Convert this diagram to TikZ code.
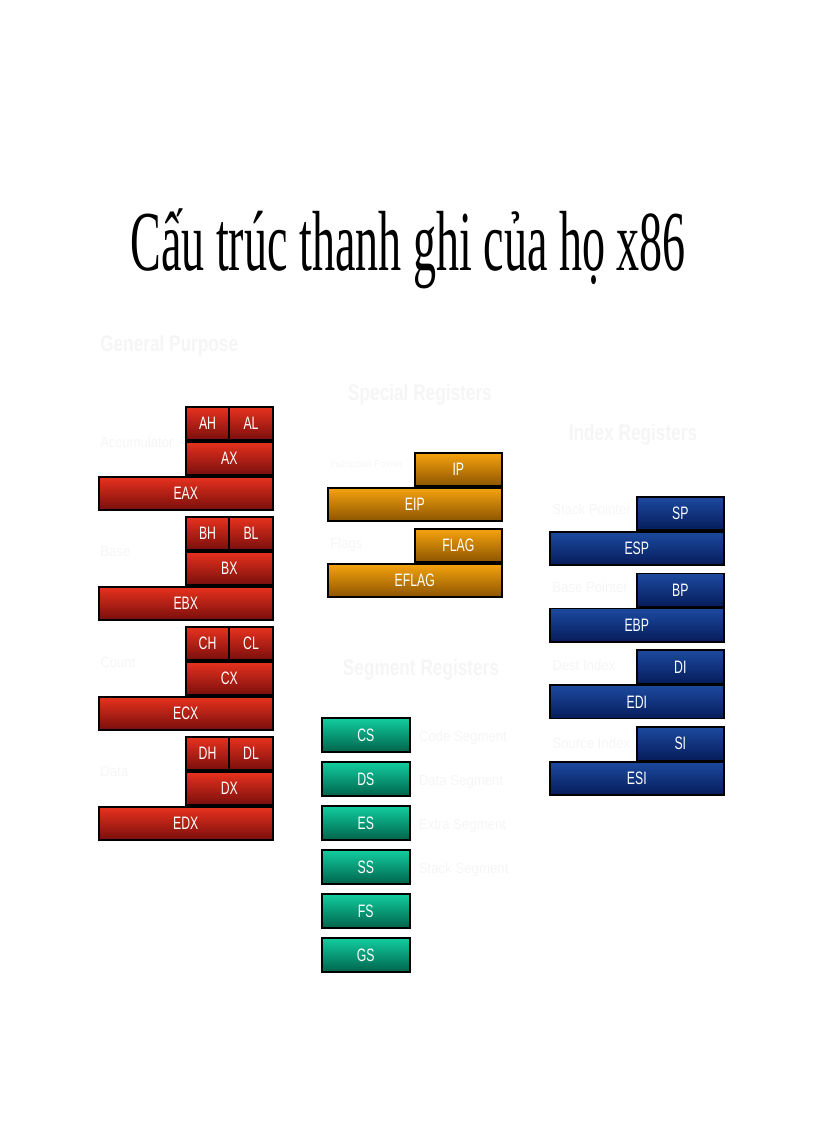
\documentclass[tikz,border=0pt]{standalone}
\usepackage{fontspec}
\setmainfont{Liberation Serif}
\newfontfamily\regfont[FakeStretch=0.68]{Liberation Sans}
\newfontfamily\headfont[FakeStretch=0.76]{Liberation Sans}
\newfontfamily\labelfont[FakeStretch=0.9]{Liberation Sans}
\newfontfamily\titlefont[FakeStretch=0.54]{Liberation Serif}
\usetikzlibrary{positioning}

\definecolor{gptop}{RGB}{232,50,30}
\definecolor{gpbot}{RGB}{120,14,12}
\definecolor{sptop}{RGB}{246,164,14}
\definecolor{spbot}{RGB}{140,84,0}
\definecolor{sgtop}{RGB}{18,206,160}
\definecolor{sgbot}{RGB}{0,100,76}
\definecolor{ixtop}{RGB}{28,74,160}
\definecolor{ixbot}{RGB}{6,28,90}

\tikzset{
  reg/.style={draw=black, line width=1.2pt, text=white, inner sep=0pt,
    minimum height=25pt, font=\regfont\fontsize{13.5}{13.5}\selectfont},
  full/.style={reg, minimum width=130.5pt},
  half/.style={reg, minimum width=65.25pt},
  quarter/.style={reg, minimum width=32.6pt},
  gpreg/.style={top color=gptop, bottom color=gpbot},
  spreg/.style={top color=sptop, bottom color=spbot},
  sgreg/.style={top color=sgtop, bottom color=sgbot},
  ixreg/.style={top color=ixtop, bottom color=ixbot},
  headlabel/.style={text=black!4, inner sep=0pt,
    font=\headfont\bfseries\fontsize{17}{17}\selectfont},
  smalllabel/.style={text=black!4, inner sep=0pt,
    font=\labelfont\fontsize{#1}{#1}\selectfont},
  smalllabel/.default=11
}

\begin{document}
\begin{tikzpicture}[x=0.75pt, y=-0.75pt]
\useasboundingbox (0,0) rectangle (816,1123);

\node[font=\titlefont\fontsize{64}{64}\selectfont, anchor=base] (title)
  at (408,270) {Cấu trúc thanh ghi của họ x86};

% general purpose
\node[headlabel, anchor=west] (gphead) at (100,346) {General Purpose};
\foreach \r/\rname [count=\i from 0] in {A/Accumulator, B/Base, C/Count, D/Data}
{
  \node[full, gpreg, anchor=north west] (E\r X) at (98,{476+110*\i}) {E\r X};
  \node[half, gpreg, anchor=south east] (\r X) at (E\r X.north east) {\r X};
  \node[quarter, gpreg, anchor=south west] (\r H) at (\r X.north west) {\r H};
  \node[quarter, gpreg, anchor=south east] (\r L) at (\r X.north east) {\r L};
  \node[smalllabel, anchor=west] (\r lbl) at (100,{442+110*\i}) {\rname};
}

% special
\node[headlabel] (sphead) at (420,395) {Special Registers};
\foreach \r/\rname/\rsize [count=\i from 0] in {IP/Instruction Pointer/7.5, FLAG/Flags/11}
{
  \node[full, spreg, anchor=north west] (E\r) at (327,{487+76*\i}) {E\r};
  \node[half, spreg, anchor=south east] (\r) at (E\r.north east) {\r};
  \node[smalllabel=\rsize, anchor=west] (\r lbl) at (330,{464+81*\i}) {\rname};
}

% segment
\node[headlabel] (sghead) at (421,670) {Segment Registers};
\foreach \r [count=\i from 0] in {CS,DS,ES,SS,FS,GS}
  \node[half, sgreg, minimum width=66pt, minimum height=25.5pt, anchor=north west]
    (\r) at (321,{717+44*\i}) {\r};
\foreach \r/\rname in {CS/Code Segment, DS/Data Segment, ES/Extra Segment, SS/Stack Segment}
  \node[smalllabel, right=6pt of \r, yshift=-2pt] (\r lbl) {\rname};

% index
\node[headlabel] (ixhead) at (633,435) {Index Registers};
\foreach \r/\rname [count=\i from 0] in {SP/Stack Pointer, BP/Base Pointer, DI/Dest Index, SI/Source Index}
{
  \node[full, ixreg, anchor=north west] (E\r) at (549,{531+76.7*\i}) {E\r};
  \node[half, ixreg, anchor=south east] (\r) at (E\r.north east) {\r};
  \node[smalllabel, anchor=west] (\r lbl) at (552,{509+78*\i}) {\rname};
}
\end{tikzpicture}
\end{document}
